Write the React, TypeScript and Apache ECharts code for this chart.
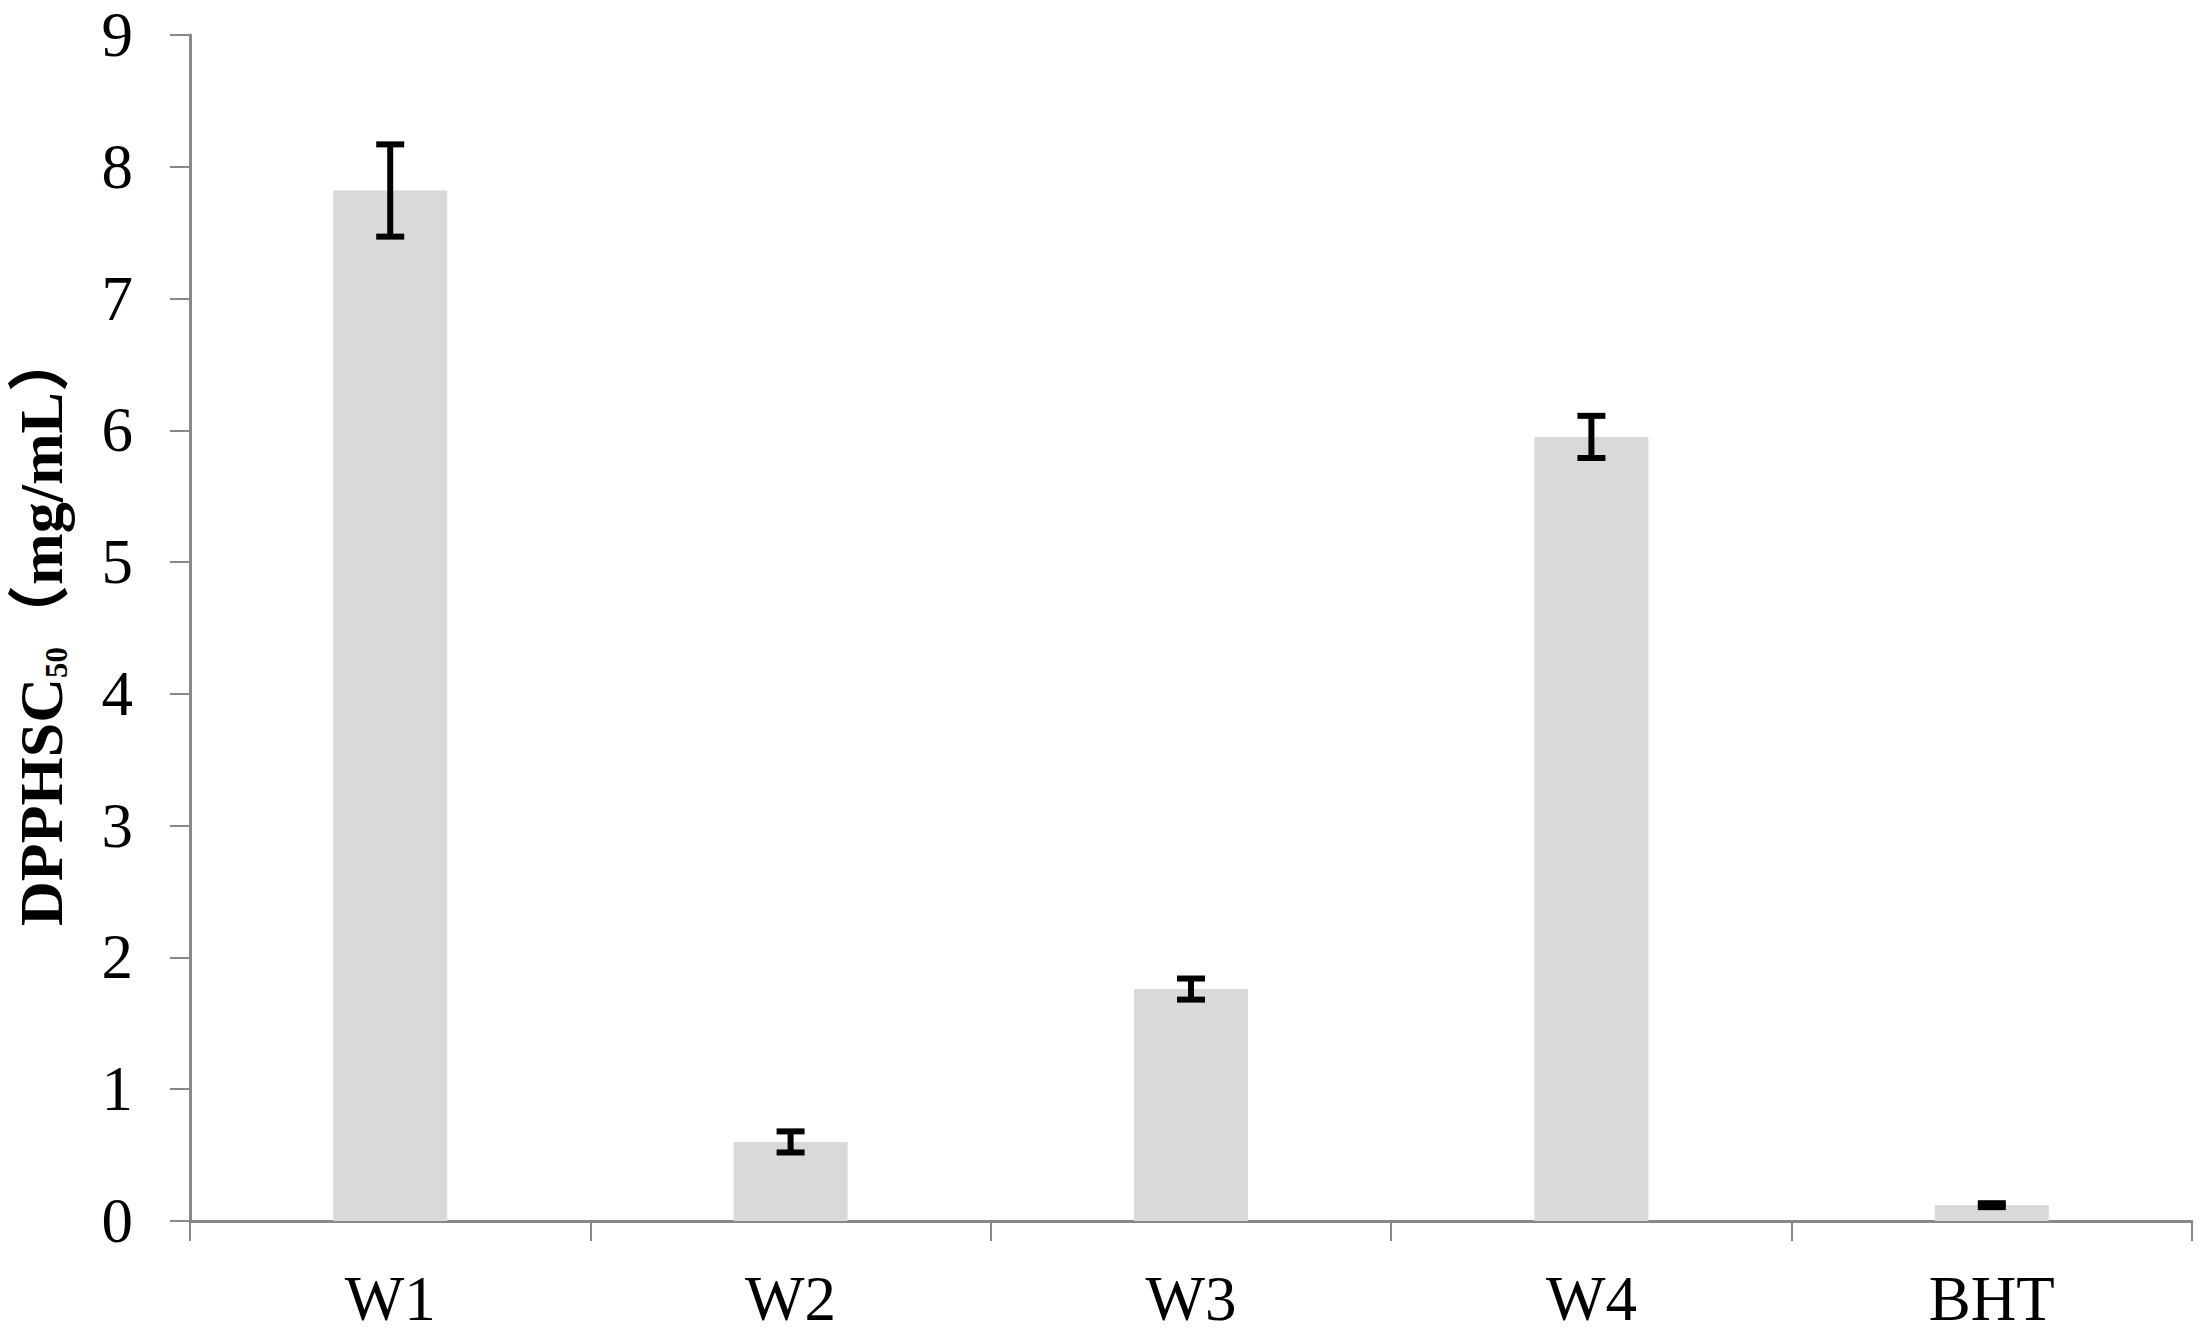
import React, { useEffect, useRef } from "react";
import * as echarts from "echarts";

const categories = ["W1", "W2", "W3", "W4", "BHT"];
const meanValues = [7.82, 0.6, 1.76, 5.95, 0.12];
const errorValues = [0.35, 0.08, 0.08, 0.16, 0.015];
const yTicks = { min: 0, max: 9, interval: 1 };

const SERIF = '"Liberation Serif", "Times New Roman", "Noto Sans CJK SC", serif';
const AXIS_GRAY = "#888888";

export default function App() {
  const ref = useRef<HTMLDivElement>(null);

  useEffect(() => {
    if (!ref.current) return;
    const chart = echarts.init(ref.current, null, { renderer: "svg" });
    const errData = categories.map((c, i) => [i, meanValues[i] - errorValues[i], meanValues[i] + errorValues[i]]);

    chart.setOption({
      animation: false,
      backgroundColor: "#ffffff",
      grid: {
        left: 190,
        right: 18,
        top: 35,
        bottom: 119,
        containLabel: false,
        outerBoundsMode: "none",
      },
      xAxis: {
        type: "category",
        data: categories,
        boundaryGap: true,
        axisLine: { show: true, lineStyle: { color: AXIS_GRAY, width: 3 } },
        axisTick: { show: true, length: 20, inside: false, lineStyle: { color: AXIS_GRAY, width: 2 } },
        axisLabel: {
          color: "#000",
          fontFamily: SERIF,
          fontSize: 63,
          margin: 46,
        },
        splitLine: { show: false },
      },
      yAxis: {
        type: "value",
        min: yTicks.min,
        max: yTicks.max,
        interval: yTicks.interval,
        name: "{b|DPPHSC}{s|50}{b|（mg/mL）}",
        nameLocation: "middle",
        nameGap: 118,
        nameRotate: 90,
        nameTextStyle: {
          color: "#000",
          fontFamily: SERIF,
          rich: {
            b: { fontSize: 62, fontWeight: "bold", fontFamily: SERIF, color: "#000" },
            s: { fontSize: 31, fontWeight: "bold", fontFamily: SERIF, color: "#000", verticalAlign: "bottom" },
          },
        },
        axisLine: { show: true, lineStyle: { color: AXIS_GRAY, width: 3 } },
        axisTick: { show: true, length: 20, inside: false, lineStyle: { color: AXIS_GRAY, width: 2 } },
        axisLabel: {
          color: "#000",
          fontFamily: SERIF,
          fontSize: 63,
          margin: 57,
        },
        splitLine: { show: false },
      },
      series: [
        {
          type: "bar",
          data: meanValues,
          barWidth: 114,
          itemStyle: { color: "#d9d9d9" },
          silent: true,
          z: 2,
        },
        {
          type: "custom",
          data: errData,
          z: 5,
          silent: true,
          renderItem: (params: any, api: any) => {
            const x = api.value(0);
            const lo = api.value(1);
            const hi = api.value(2);
            const top = api.coord([x, hi]);
            const bot = api.coord([x, lo]);
            const hw = 14;
            const style = { stroke: "#000", lineWidth: 6, fill: "none" };
            return {
              type: "group",
              children: [
                { type: "line", shape: { x1: top[0], y1: top[1], x2: bot[0], y2: bot[1] }, style },
                { type: "line", shape: { x1: top[0] - hw, y1: top[1], x2: top[0] + hw, y2: top[1] }, style },
                { type: "line", shape: { x1: bot[0] - hw, y1: bot[1], x2: bot[0] + hw, y2: bot[1] }, style },
              ],
            };
          },
        },
      ],
    });

    return () => {
      chart.dispose();
    };
  }, []);

  return (
    <div
      ref={ref}
      style={{ position: "fixed", left: 0, top: 0, width: 2210, height: 1340, background: "#fff" }}
    />
  );
}
